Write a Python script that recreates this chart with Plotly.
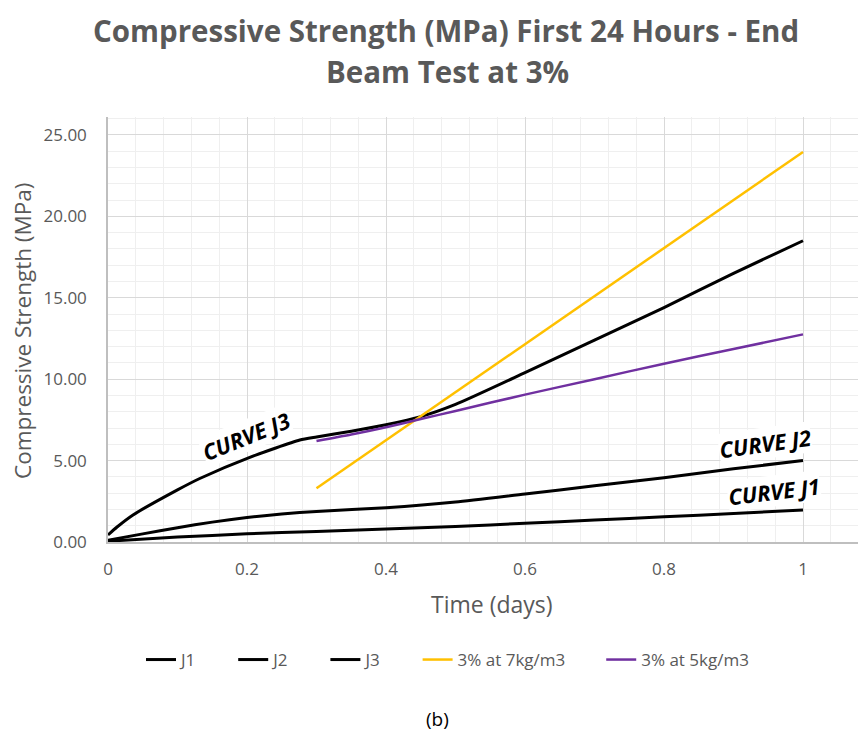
import plotly.graph_objects as go

# Data
j1_x = [0, 0.1, 0.2, 0.3, 0.4, 0.5, 0.6, 0.7, 0.8, 0.9, 1.0]
j1_y = [0.05, 0.3, 0.5, 0.65, 0.8, 0.95, 1.15, 1.35, 1.55, 1.75, 1.97]

j2_x = [0, 0.05, 0.1, 0.15, 0.2, 0.25, 0.3, 0.4, 0.5, 0.6, 0.7, 0.8, 0.9, 1.0]
j2_y = [0.1, 0.5, 0.88, 1.22, 1.5, 1.72, 1.88, 2.1, 2.45, 2.95, 3.45, 3.95, 4.5, 5.0]

j3_x = [0, 0.013, 0.036, 0.1, 0.132, 0.204, 0.276, 0.3, 0.35, 0.4, 0.45, 0.5, 0.6, 0.7, 0.8, 0.9, 1.0]
j3_y = [0.43, 0.92, 1.66, 3.2, 3.9, 5.2, 6.26, 6.45, 6.8, 7.2, 7.7, 8.45, 10.4, 12.4, 14.4, 16.5, 18.5]

y7_x = [0.3, 1.0]
y7_y = [3.3, 23.95]

p5_x = [0.3, 0.35, 0.4, 0.45, 0.5, 0.6, 0.7, 0.8, 0.9, 1.0]
p5_y = [6.2, 6.6, 7.05, 7.55, 8.05, 9.05, 10.0, 10.95, 11.85, 12.75]

x_ticks = [0, 0.2, 0.4, 0.6, 0.8, 1]
x_tick_text = ["0", "0.2", "0.4", "0.6", "0.8", "1"]
y_ticks = [0, 5, 10, 15, 20, 25]
y_tick_text = ["0.00", "5.00", "10.00", "15.00", "20.00", "25.00"]

series_names = ["J1", "J2", "J3", "3% at 7kg/m3", "3% at 5kg/m3"]

# page body has an 8px margin; figure sized to fit the window without overflow
OFF = 8
PL, PR, PT, PB = 108, 858, 117, 542  # plot area in page pixels


def px(xp):
    return (xp - PL) / (PR - PL)


def py(yp):
    return (PB - yp) / (PB - PT)


pad = "\u00a0" * 7
fig = go.Figure()
fig.add_trace(go.Scatter(x=j1_x, y=j1_y, mode="lines", name=series_names[0] + pad,
                         line=dict(color="black", width=3, shape="spline", smoothing=0.6)))
fig.add_trace(go.Scatter(x=j2_x, y=j2_y, mode="lines", name=series_names[1] + pad,
                         line=dict(color="black", width=3, shape="spline", smoothing=0.6)))
fig.add_trace(go.Scatter(x=j3_x, y=j3_y, mode="lines", name=series_names[2] + pad,
                         line=dict(color="black", width=3, shape="spline", smoothing=0.6)))
fig.add_trace(go.Scatter(x=y7_x, y=y7_y, mode="lines", name=series_names[3] + pad,
                         line=dict(color="#FFC000", width=2.5)))
fig.add_trace(go.Scatter(x=p5_x, y=p5_y, mode="lines", name=series_names[4],
                         line=dict(color="#7030A0", width=2.5, shape="spline", smoothing=0.6)))

W, H = 866 - 2 * OFF, 740 - 2 * OFF
grey = "#595959"
fig.update_layout(
    width=W, height=H,
    margin=dict(l=PL - OFF, r=W - (PR - OFF), t=PT - OFF, b=H - (PB - OFF), autoexpand=False),
    paper_bgcolor="white", plot_bgcolor="white",
    font=dict(family="Open Sans", color=grey),
    showlegend=True,
    legend=dict(orientation="h", x=px(141), y=py(660), xanchor="left", yanchor="middle",
                font=dict(size=17, color=grey), traceorder="normal"),
)
fig.update_xaxes(range=[0, (PR - PL) / 695.0], tickvals=x_ticks, ticktext=x_tick_text,
                 showgrid=True, gridcolor="#d9d9d9", gridwidth=1,
                 minor=dict(dtick=0.04, tick0=0, showgrid=True, gridcolor="#efefef", gridwidth=1),
                 showline=True, linecolor="#bfbfbf", linewidth=1.5,
                 zeroline=False, ticks="", ticklabelstandoff=11,
                 tickfont=dict(size=17, color=grey))
fig.update_yaxes(range=[0, 26.1], tickvals=y_ticks, ticktext=y_tick_text,
                 showgrid=True, gridcolor="#d9d9d9", gridwidth=1,
                 minor=dict(dtick=1, tick0=0, showgrid=True, gridcolor="#efefef", gridwidth=1),
                 showline=True, linecolor="#bfbfbf", linewidth=1.5,
                 zeroline=False, ticks="", ticklabelstandoff=16,
                 tickfont=dict(size=17, color=grey))

# Title lines
fig.add_annotation(text="<b>Compressive Strength (MPa) First 24 Hours - End</b>",
                   xref="paper", yref="paper", x=px(446), y=py(30), yanchor="middle",
                   showarrow=False, font=dict(size=29.5, color=grey))
fig.add_annotation(text="<b>Beam Test at 3%</b>",
                   xref="paper", yref="paper", x=px(447), y=py(71), yanchor="middle",
                   showarrow=False, font=dict(size=29.5, color=grey))

annos = [
    dict(text="<b><i>CURVE J3</i></b>", x=0.198, y=6.5, textangle=-22),
    dict(text="<b><i>CURVE J2</i></b>", x=0.946, y=6.1, textangle=-8),
    dict(text="<b><i>CURVE J1</i></b>", x=0.958, y=3.15, textangle=-7),
]
for a in annos:
    fig.add_annotation(xref="x", yref="y", showarrow=False, bgcolor="white", borderpad=0,
                       font=dict(size=22, color="black", family="Open Sans"), **a)

fig.add_annotation(text="Time (days)", xref="paper", yref="paper", x=px(492),
                   y=py(604), yanchor="middle",
                   showarrow=False, font=dict(size=23, color=grey))
fig.add_annotation(text="Compressive Strength (MPa)", xref="paper", yref="paper",
                   x=px(22), y=py(331), xanchor="center", yanchor="middle",
                   textangle=-90, showarrow=False, font=dict(size=22.5, color=grey))
fig.add_annotation(text="(b)", xref="paper", yref="paper", x=px(437),
                   y=py(719), yanchor="middle",
                   showarrow=False, font=dict(size=19, color="black"))

fig.write_html("out.html")
